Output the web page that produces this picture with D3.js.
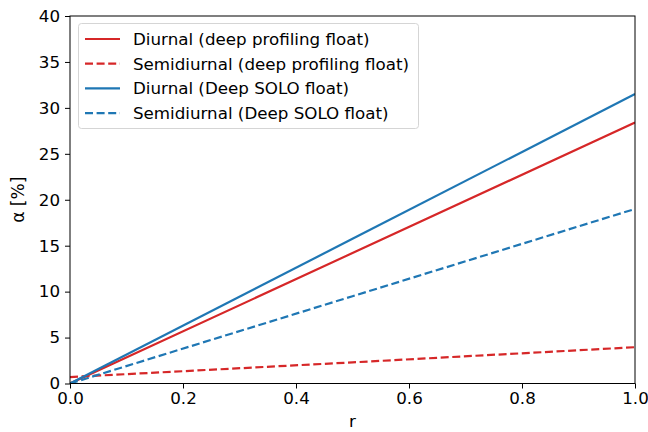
<!DOCTYPE html>
<html>
<head>
<meta charset="utf-8">
<script src="https://cdn.jsdelivr.net/npm/d3@7"></script>
<style>
  body { margin: 0; background: #fff; }
  text { font-family: "DejaVu Sans", sans-serif; fill: #000; }
</style>
</head>
<body>
<script>
// values
let rVals = [0, 0.5, 1.0];
let diurnalDeep = [0.0, 14.2, 28.4];
let semiDeep = [0.7, 2.3, 3.95];
let diurnalSolo = [0.0, 15.75, 31.5];
let semiSolo = [0.0, 9.5, 19.0];
let seriesNames = ["Diurnal (deep profiling float)", "Semidiurnal (deep profiling float)",
                   "Diurnal (Deep SOLO float)", "Semidiurnal (Deep SOLO float)"];
let xTicks = [0, 0.2, 0.4, 0.6, 0.8, 1.0];
let yTicks = [0, 5, 10, 15, 20, 25, 30, 35, 40];

let width = 648, height = 432;
let padL = 70, padR = 635, padT = 16, padB = 383.5;
let red = "#d62728", blue = "#1f77b4";
let fs = "16.7px";

let series = [
  {name: seriesNames[0], vals: diurnalDeep, color: red, dash: null},
  {name: seriesNames[1], vals: semiDeep, color: red, dash: "8,3.6"},
  {name: seriesNames[2], vals: diurnalSolo, color: blue, dash: null},
  {name: seriesNames[3], vals: semiSolo, color: blue, dash: "8,3.6"}
];

let svg = d3.select("body").append("svg")
  .attr("width", width).attr("height", height);

let x = d3.scaleLinear().domain([0, 1]).range([padL, padR]);
let y = d3.scaleLinear().domain([0, 40]).range([padB, padT]);

// axes
let axisX = d3.axisBottom(x).tickValues(xTicks).tickFormat(d3.format(".1f")).tickSize(5).tickPadding(4);
let axisY = d3.axisLeft(y).tickValues(yTicks).tickFormat(d3.format("d")).tickSize(5).tickPadding(5);
let gx = svg.append("g").attr("transform", `translate(0,${padB})`).call(axisX);
let gy = svg.append("g").attr("transform", `translate(${padL},0)`).call(axisY);
[gx, gy].forEach(g => {
  g.select(".domain").remove();
  g.selectAll("line").attr("stroke", "#000").attr("stroke-width", 1);
  g.selectAll("text").style("font-size", fs).style("font-family", "DejaVu Sans");
});

// lines
let line = d3.line().x((d, i) => x(rVals[i])).y(d => y(d));
svg.append("defs").append("clipPath").attr("id", "clip")
  .append("rect").attr("x", padL).attr("y", padT).attr("width", padR - padL).attr("height", padB - padT);
series.forEach(s => {
  svg.append("path")
    .datum(s.vals)
    .attr("d", line)
    .attr("fill", "none")
    .attr("stroke", s.color)
    .attr("stroke-width", 2.2)
    .attr("stroke-dasharray", s.dash)
    .attr("clip-path", "url(#clip)");
});

// frame
svg.append("rect")
  .attr("x", padL).attr("y", padT)
  .attr("width", padR - padL).attr("height", padB - padT)
  .attr("fill", "none").attr("stroke", "#000").attr("stroke-width", 1);

// axis labels
svg.append("text").attr("x", (padL + padR) / 2).attr("y", 427)
  .attr("text-anchor", "middle").style("font-size", fs).text("r");
svg.append("text")
  .attr("transform", `translate(24,${(padT + padB) / 2}) rotate(-90)`)
  .attr("text-anchor", "middle").style("font-size", "17px").text("α [%]");

// legend
let legend = svg.append("g");
legend.append("rect")
  .attr("x", 78.5).attr("y", 23.5).attr("width", 340).attr("height", 105)
  .attr("rx", 3).attr("fill", "#fff").attr("fill-opacity", 0.8)
  .attr("stroke", "#d5d5d5").attr("stroke-width", 1);
series.forEach((s, i) => {
  let ly = 39 + i * 24.7;
  legend.append("line")
    .attr("x1", 85).attr("x2", 120).attr("y1", ly).attr("y2", ly)
    .attr("stroke", s.color).attr("stroke-width", 2.2)
    .attr("stroke-dasharray", s.dash);
  legend.append("text")
    .attr("x", 133).attr("y", ly).attr("dy", "0.35em")
    .style("font-size", fs).text(s.name);
});
</script>
</body>
</html>
